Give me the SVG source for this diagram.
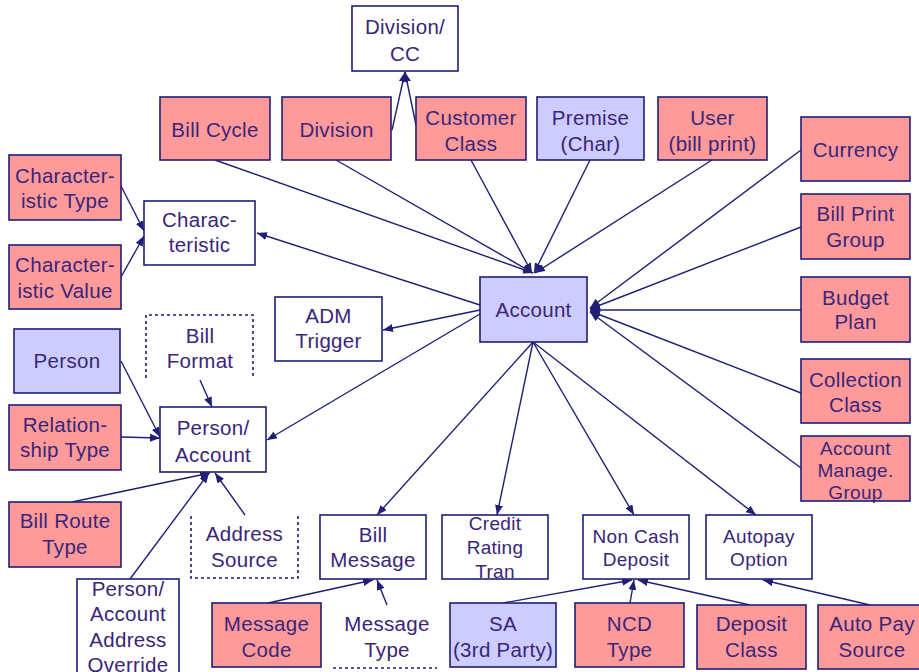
<svg xmlns="http://www.w3.org/2000/svg" width="919" height="672" viewBox="0 0 919 672">
<style>
.b{stroke:#1f1f75;stroke-width:1.6}
.p{fill:#ff9a9a}
.l{fill:#ccccff}
.w{fill:#ffffff}
.d{fill:none;stroke:#1f1f75;stroke-width:1.6;stroke-dasharray:3,3}
text{font-family:"Liberation Sans",Arial,sans-serif;font-size:20.5px;fill:#3a2578;text-anchor:middle;letter-spacing:0.3px}
.s{font-size:19px}
#conn line{stroke:#1f1f75;stroke-width:1.4;marker-end:url(#ah)}
</style>
<defs>
<marker id="ah" markerUnits="userSpaceOnUse" markerWidth="10" markerHeight="8" refX="10" refY="4" orient="auto"><path d="M0,0 L10,4 L0,8 z" fill="#1f1f75"/></marker>
</defs>
<rect width="919" height="672" fill="#ffffff"/>
<g id="conn">
<line x1="392" y1="130" x2="405" y2="72"/>
<line x1="416" y1="125" x2="405" y2="72"/>
<line x1="215" y1="160" x2="533" y2="273"/>
<line x1="336" y1="160" x2="533" y2="273"/>
<line x1="471" y1="160" x2="532" y2="273"/>
<line x1="590" y1="160" x2="534" y2="273"/>
<line x1="712" y1="160" x2="535" y2="273"/>
<line x1="801" y1="150" x2="590" y2="308"/>
<line x1="801" y1="227" x2="590" y2="309"/>
<line x1="801" y1="310" x2="590" y2="310"/>
<line x1="801" y1="393" x2="590" y2="311"/>
<line x1="801" y1="468" x2="590" y2="312"/>
<line x1="480" y1="305" x2="257" y2="233"/>
<line x1="480" y1="310" x2="383" y2="330"/>
<line x1="480" y1="314" x2="267" y2="440"/>
<line x1="533" y1="342" x2="377" y2="515"/>
<line x1="533" y1="342" x2="497" y2="515"/>
<line x1="533" y1="342" x2="634" y2="515"/>
<line x1="533" y1="342" x2="756" y2="515"/>
<line x1="121" y1="186" x2="144" y2="231"/>
<line x1="121" y1="277" x2="144" y2="236"/>
<line x1="121" y1="361" x2="160" y2="437"/>
<line x1="121" y1="437" x2="160" y2="438"/>
<line x1="200" y1="380" x2="212" y2="407"/>
<line x1="72" y1="502" x2="210" y2="473"/>
<line x1="130" y1="579" x2="209" y2="473"/>
<line x1="245" y1="515" x2="215" y2="473"/>
<line x1="268" y1="603" x2="373" y2="580"/>
<line x1="387" y1="605" x2="377" y2="580"/>
<line x1="503" y1="603" x2="632" y2="580"/>
<line x1="630" y1="603" x2="634" y2="580"/>
<line x1="750" y1="605" x2="638" y2="580"/>
<line x1="870" y1="605" x2="763" y2="580"/>
</g>
<g id="divcc"><rect class="b w" x="352" y="6" width="106" height="65"/><text x="405" y="34">Division/</text><text x="405" y="61">CC</text></g>
<g id="billcycle"><rect class="b p" x="160" y="97" width="110" height="63"/><text x="215" y="137">Bill Cycle</text></g>
<g id="division"><rect class="b p" x="282" y="97" width="109" height="63"/><text x="336.5" y="137">Division</text></g>
<g id="customerclass"><rect class="b p" x="416" y="97" width="110" height="63"/><text x="471" y="125">Customer</text><text x="471" y="151">Class</text></g>
<g id="premise"><rect class="b l" x="537" y="97" width="107" height="63"/><text x="590.5" y="125">Premise</text><text x="590.5" y="151">(Char)</text></g>
<g id="user"><rect class="b p" x="658" y="97" width="109" height="63"/><text x="712.5" y="125">User</text><text x="712.5" y="151">(bill print)</text></g>
<g id="currency"><rect class="b p" x="801" y="117" width="109" height="64"/><text x="855.5" y="157">Currency</text></g>
<g id="billprintgroup"><rect class="b p" x="801" y="194" width="109" height="65"/><text x="855.5" y="221">Bill Print</text><text x="855.5" y="247">Group</text></g>
<g id="budgetplan"><rect class="b p" x="801" y="277" width="109" height="65"/><text x="855.5" y="305">Budget</text><text x="855.5" y="329">Plan</text></g>
<g id="collectionclass"><rect class="b p" x="801" y="359" width="109" height="64"/><text x="855.5" y="387">Collection</text><text x="855.5" y="412">Class</text></g>
<g id="acctmgmtgroup"><rect class="b p" x="801" y="436" width="109" height="65"/><text class="s" x="855.5" y="455">Account</text><text class="s" x="855.5" y="477">Manage.</text><text class="s" x="855.5" y="499">Group</text></g>
<g id="account"><rect class="b l" x="480" y="277" width="107" height="65"/><text x="533.5" y="317">Account</text></g>
<g id="chartype"><rect class="b p" x="9" y="155" width="112" height="65"/><text x="65" y="183">Character-</text><text x="65" y="208">istic Type</text></g>
<g id="charvalue"><rect class="b p" x="9" y="245" width="112" height="64"/><text x="65" y="272">Character-</text><text x="65" y="298">istic Value</text></g>
<g id="characteristic"><rect class="b w" x="144" y="201" width="111" height="64"/><text x="199.5" y="227">Charac-</text><text x="199.5" y="252">teristic</text></g>
<g id="admtrigger"><rect class="b w" x="275" y="297" width="107" height="64"/><text x="328.5" y="323">ADM</text><text x="328.5" y="348">Trigger</text></g>
<g id="person"><rect class="b l" x="14" y="329" width="106" height="64"/><text x="67" y="368">Person</text></g>
<g id="billformat"><path class="d" d="M146,378 V315 H253 V378"/><text x="200" y="343">Bill</text><text x="200" y="368">Format</text></g>
<g id="relationshiptype"><rect class="b p" x="9" y="405" width="112" height="65"/><text x="65" y="432">Relation-</text><text x="65" y="457">ship Type</text></g>
<g id="personaccount"><rect class="b w" x="160" y="407" width="106" height="65"/><text x="213" y="435">Person/</text><text x="213" y="462">Account</text></g>
<g id="billroutetype"><rect class="b p" x="9" y="502" width="112" height="65"/><text x="65" y="528">Bill Route</text><text x="65" y="554">Type</text></g>
<g id="paaddressoverride"><rect class="b w" x="77" y="579" width="102" height="100"/><text x="128" y="596">Person/</text><text x="128" y="621">Account</text><text x="128" y="647">Address</text><text x="128" y="672">Override</text></g>
<g id="addresssource"><path class="d" d="M191,516 V578 H298 V516"/><text x="244.5" y="541">Address</text><text x="244.5" y="567">Source</text></g>
<g id="billmessage"><rect class="b w" x="320" y="515" width="106" height="64"/><text x="373" y="542">Bill</text><text x="373" y="567">Message</text></g>
<g id="messagecode"><rect class="b p" x="212" y="603" width="109" height="64"/><text x="266.5" y="631">Message</text><text x="266.5" y="657">Code</text></g>
<g id="messagetype"><path class="d" d="M333,668 H437"/><text x="387" y="631">Message</text><text x="387" y="657">Type</text></g>
<g id="creditratingtran"><rect class="b w" x="442" y="515" width="106" height="64"/><text class="s" x="495" y="530">Credit</text><text class="s" x="495" y="554">Rating</text><text class="s" x="495" y="578">Tran</text></g>
<g id="noncashdeposit"><rect class="b w" x="583" y="515" width="106" height="64"/><text class="s" x="636" y="543">Non Cash</text><text class="s" x="636" y="566">Deposit</text></g>
<g id="autopayoption"><rect class="b w" x="706" y="515" width="106" height="64"/><text class="s" x="759" y="543">Autopay</text><text class="s" x="759" y="566">Option</text></g>
<g id="sa3rdparty"><rect class="b l" x="450" y="603" width="106" height="64"/><text x="503" y="631">SA</text><text x="503" y="657">(3rd Party)</text></g>
<g id="ncdtype"><rect class="b p" x="575" y="603" width="109" height="64"/><text x="629.5" y="631">NCD</text><text x="629.5" y="657">Type</text></g>
<g id="depositclass"><rect class="b p" x="697" y="605" width="109" height="64"/><text x="751.5" y="631">Deposit</text><text x="751.5" y="657">Class</text></g>
<g id="autopaysource"><rect class="b p" x="818" y="605" width="108" height="64"/><text x="872" y="631">Auto Pay</text><text x="872" y="657">Source</text></g>
</svg>
